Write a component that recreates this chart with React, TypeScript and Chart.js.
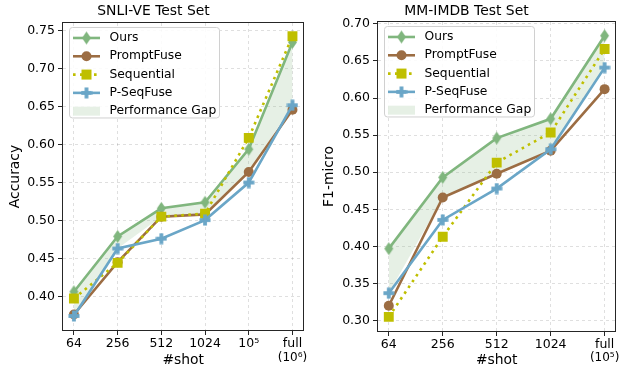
import React, { useEffect, useRef } from "react";
import { Chart, registerables } from "chart.js";

Chart.register(...registerables);

// ---------- data ----------
const seriesNames = ["Ours", "PromptFuse", "Sequential", "P-SeqFuse"];
const gapLabel = "Performance Gap";

const snliTitle = "SNLI-VE Test Set";
const snliYLabel = "Accuracy";
const snliCategories = ["64", "256", "512", "1024", "10⁵", "full"];
const snliFullNote = "(10⁶)";
const snliOurs = [0.406, 0.479, 0.516, 0.524, 0.594, 0.735];
const snliPromptFuse = [0.376, 0.445, 0.505, 0.508, 0.564, 0.646];
const snliSequential = [0.397, 0.444, 0.505, 0.509, 0.609, 0.743];
const snliPSeqFuse = [0.374, 0.463, 0.476, 0.5005, 0.55, 0.652];
const snliYTicks = [0.4, 0.45, 0.5, 0.55, 0.6, 0.65, 0.7, 0.75];

const mmTitle = "MM-IMDB Test Set";
const mmYLabel = "F1-micro";
const mmCategories = ["64", "256", "512", "1024", "full"];
const mmFullNote = "(10⁵)";
const mmOurs = [0.397, 0.493, 0.546, 0.572, 0.684];
const mmPromptFuse = [0.32, 0.466, 0.498, 0.529, 0.612];
const mmSequential = [0.305, 0.413, 0.513, 0.5535, 0.666];
const mmPSeqFuse = [0.337, 0.4357, 0.478, 0.531, 0.641];
const mmYTicks = [0.3, 0.35, 0.4, 0.45, 0.5, 0.55, 0.6, 0.65, 0.7];

// ---------- styles ----------
const GREEN = "#80b67e";
const BROWN = "#9c6d43";
const YELLOW = "#bfbf00";
const BLUE = "#6aa6c7";
const FILL = "rgba(128,182,126,0.2)";
const FONT = "'DejaVu Sans', sans-serif";

function makeDiamond(color: string) {
  const c = document.createElement("canvas");
  c.width = 11;
  c.height = 15;
  const ctx = c.getContext("2d")!;
  ctx.fillStyle = color;
  ctx.beginPath();
  ctx.moveTo(5.5, 1);
  ctx.lineTo(10, 7.5);
  ctx.lineTo(5.5, 14);
  ctx.lineTo(1, 7.5);
  ctx.closePath();
  ctx.fill();
  return c;
}

function makePlus(color: string) {
  const c = document.createElement("canvas");
  c.width = 12;
  c.height = 12;
  const ctx = c.getContext("2d")!;
  ctx.fillStyle = color;
  const s = 11, t = 3.8, m = 6;
  ctx.fillRect(m - s / 2, m - t / 2, s, t);
  ctx.fillRect(m - t / 2, m - s / 2, t, s);
  return c;
}

type Panel = {
  title: string;
  yLabel: string;
  categories: string[];
  note: string;
  ours: number[];
  promptFuse: number[];
  sequential: number[];
  pSeqFuse: number[];
  yTicks: number[];
  yMin: number;
  yMax: number;
  yWidth: number;
  xHeight: number;
  padRight: number;
  titleBottomPad: number;
  yTitlePad: number;
};

function buildConfig(p: Panel, markers: { diamond: any; plus: any }): any {
  const n = p.categories.length;
  const pts = (arr: number[]) => arr.map((v, i) => ({ x: i, y: v }));
  const gapLower = p.promptFuse.map((v, i) => Math.max(v, p.pSeqFuse[i]));

  const datasets: any[] = [
    {
      label: seriesNames[0],
      data: pts(p.ours),
      borderColor: GREEN,
      backgroundColor: FILL,
      pointBackgroundColor: GREEN,
      pointBorderColor: GREEN,
      borderWidth: 2.6,
      pointStyle: markers.diamond,
      pointRadius: 6,
      fill: { target: 4 },
      order: 4,
      _legend: { style: "diamond" },
    },
    {
      label: seriesNames[1],
      data: pts(p.promptFuse),
      borderColor: BROWN,
      backgroundColor: BROWN,
      pointBackgroundColor: BROWN,
      pointBorderColor: BROWN,
      borderWidth: 2.6,
      pointStyle: "circle",
      pointRadius: 5,
      pointBorderWidth: 0,
      fill: false,
      order: 3,
      _legend: { style: "circle" },
    },
    {
      label: seriesNames[2],
      data: pts(p.sequential),
      borderColor: YELLOW,
      backgroundColor: YELLOW,
      pointBackgroundColor: YELLOW,
      pointBorderColor: YELLOW,
      borderWidth: 2.6,
      borderDash: [2.6, 4.4],
      borderCapStyle: "butt",
      pointStyle: "rect",
      pointRadius: 7,
      pointBorderWidth: 0,
      fill: false,
      order: 2,
      _legend: { style: "rect" },
    },
    {
      label: seriesNames[3],
      data: pts(p.pSeqFuse),
      borderColor: BLUE,
      backgroundColor: BLUE,
      pointBackgroundColor: BLUE,
      pointBorderColor: BLUE,
      borderWidth: 2.6,
      pointStyle: markers.plus,
      pointRadius: 6,
      fill: false,
      order: 1,
      _legend: { style: "plus" },
    },
    {
      label: gapLabel,
      data: pts(gapLower),
      borderColor: "rgba(0,0,0,0)",
      borderWidth: 0,
      pointRadius: 0,
      fill: false,
      order: 5,
    },
  ];

  const legendPlugin = {
    id: "customLegend",
    afterDatasetsDraw(chart: any) {
      const ctx = chart.ctx;
      const a = chart.chartArea;
      const lx = a.left + 6.5;
      const ly = a.top + 4.5;
      const bw = 150;
      const bh = 90.5;
      ctx.save();
      ctx.beginPath();
      if (ctx.roundRect) ctx.roundRect(lx, ly, bw, bh, 3);
      else ctx.rect(lx, ly, bw, bh);
      ctx.fillStyle = "rgba(255,255,255,0.85)";
      ctx.fill();
      ctx.strokeStyle = "#d0d0d0";
      ctx.lineWidth = 1;
      ctx.stroke();
      ctx.font = `12.3px ${FONT}`;
      ctx.textBaseline = "middle";
      ctx.textAlign = "left";
      const x0 = lx + 3.5, x1 = lx + 30.5, xc = (x0 + x1) / 2;
      for (let i = 0; i < 5; i++) {
        const ds = chart.data.datasets[i];
        const y = ly + 10.5 + i * 18.3;
        if (i < 4) {
          ctx.save();
          ctx.strokeStyle = ds.borderColor;
          ctx.lineWidth = ds.borderWidth;
          ctx.setLineDash(ds.borderDash || []);
          ctx.lineCap = "butt";
          ctx.beginPath();
          ctx.moveTo(x0, y);
          ctx.lineTo(x1, y);
          ctx.stroke();
          ctx.restore();
          const st = ds._legend.style;
          ctx.fillStyle = ds.borderColor;
          if (st === "diamond" || st === "plus") {
            const img = ds.pointStyle;
            ctx.drawImage(img, xc - img.width / 2, y - img.height / 2);
          } else if (st === "circle") {
            ctx.beginPath();
            ctx.arc(xc, y, 5, 0, Math.PI * 2);
            ctx.fill();
          } else {
            ctx.fillRect(xc - 5, y - 5, 10, 10);
          }
        } else {
          ctx.fillStyle = FILL;
          ctx.fillRect(x0, y - 4.5, x1 - x0, 9);
        }
        ctx.fillStyle = "#000";
        ctx.fillText(ds.label, lx + 40, y);
      }
      ctx.restore();
    },
    afterDraw(chart: any) {
      const ctx = chart.ctx;
      const a = chart.chartArea;
      ctx.save();
      ctx.strokeStyle = "#262626";
      ctx.lineWidth = 1;
      ctx.strokeRect(Math.round(a.left) - 0.5, Math.round(a.top) - 0.5, Math.round(a.right - a.left) + 1, Math.round(a.bottom - a.top) + 1);
      const xs = chart.scales.x;
      const px = xs.getPixelForValue(n - 1);
      ctx.font = `12px ${FONT}`;
      ctx.fillStyle = "#000";
      ctx.textAlign = "center";
      ctx.textBaseline = "middle";
      ctx.fillText(p.note, px, 358);
      ctx.restore();
    },
  };

  const gridCommon = {
    color: "rgba(0,0,0,0.16)",
    lineWidth: 0.8,
    tickColor: "#262626",
    tickLength: 5,
    tickWidth: 1,
    tickBorderDash: [],
  };

  return {
    type: "line",
    data: { datasets },
    options: {
      animation: false,
      responsive: false,
      events: [],
      layout: { padding: { left: 0, right: p.padRight, top: 0, bottom: 0 } },
      plugins: {
        legend: { display: false },
        tooltip: { enabled: false },
        filler: { drawTime: "beforeDatasetsDraw" },
        title: {
          display: true,
          text: p.title,
          color: "#000",
          font: { family: FONT, size: 13.9, weight: "normal" },
          padding: { top: 3, bottom: p.titleBottomPad },
        },
      },
      elements: { line: { tension: 0 } },
      scales: {
        x: {
          type: "linear",
          min: -0.05 * (n - 1),
          max: (n - 1) * 1.05,
          afterBuildTicks: (s: any) => {
            s.ticks = p.categories.map((_, i) => ({ value: i }));
          },
          afterFit: (s: any) => {
            s.height = p.xHeight;
          },
          ticks: {
            color: "#000",
            font: { family: FONT, size: 12.5 },
            padding: 1,
            maxRotation: 0,
            autoSkip: false,
            callback: (_v: any, i: number) => p.categories[i],
          },
          grid: gridCommon,
          border: { display: false, dash: [3, 3] },
          title: {
            display: true,
            text: "#shot",
            color: "#000",
            font: { family: FONT, size: 13.9 },
            padding: { top: 0, bottom: 1.7 },
          },
        },
        y: {
          type: "linear",
          min: p.yMin,
          max: p.yMax,
          afterBuildTicks: (s: any) => {
            s.ticks = p.yTicks.map((v) => ({ value: v }));
          },
          afterFit: (s: any) => {
            s.width = p.yWidth;
          },
          ticks: {
            color: "#000",
            font: { family: FONT, size: 12.5 },
            padding: 3,
            callback: (v: any) => Number(v).toFixed(2),
          },
          grid: gridCommon,
          border: { display: false, dash: [3, 3] },
          title: {
            display: true,
            text: p.yLabel,
            color: "#000",
            font: { family: FONT, size: 13.9 },
            padding: { top: p.yTitlePad, bottom: 0 },
          },
        },
      },
    },
    plugins: [legendPlugin],
  };
}

export default function App() {
  const leftRef = useRef<HTMLCanvasElement>(null);
  const rightRef = useRef<HTMLCanvasElement>(null);

  useEffect(() => {
    const markers = { diamond: makeDiamond(GREEN), plus: makePlus(BLUE) };
    const left: Panel = {
      title: snliTitle,
      yLabel: snliYLabel,
      categories: snliCategories,
      note: snliFullNote,
      ours: snliOurs,
      promptFuse: snliPromptFuse,
      sequential: snliSequential,
      pSeqFuse: snliPSeqFuse,
      yTicks: snliYTicks,
      yMin: 0.3555,
      yMax: 0.7605,
      yWidth: 63,
      xHeight: 40,
      padRight: 5,
      titleBottomPad: 3.3,
      yTitlePad: 7,
    };
    const right: Panel = {
      title: mmTitle,
      yLabel: mmYLabel,
      categories: mmCategories,
      note: mmFullNote,
      ours: mmOurs,
      promptFuse: mmPromptFuse,
      sequential: mmSequential,
      pSeqFuse: mmPSeqFuse,
      yTicks: mmYTicks,
      yMin: 0.286,
      yMax: 0.7025,
      yWidth: 66,
      xHeight: 39,
      padRight: 3,
      titleBottomPad: 2.3,
      yTitlePad: 8.7,
    };
    const c1 = new Chart(leftRef.current!, buildConfig(left, markers));
    const c2 = new Chart(rightRef.current!, buildConfig(right, markers));
    return () => {
      c1.destroy();
      c2.destroy();
    };
  }, []);

  return (
    <div style={{ position: "absolute", left: 0, top: 0, width: 624, height: 370, background: "#fff" }}>
      <canvas ref={leftRef} width={312} height={370} style={{ position: "absolute", left: 0, top: 0, width: 312, height: 370 }} />
      <canvas ref={rightRef} width={312} height={370} style={{ position: "absolute", left: 312, top: 0, width: 312, height: 370 }} />
    </div>
  );
}
